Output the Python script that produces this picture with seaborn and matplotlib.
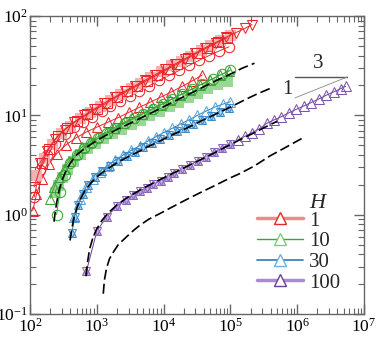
import numpy as np
import pandas as pd
import seaborn as sns
import matplotlib
matplotlib.use("Agg")
import matplotlib.pyplot as plt
from matplotlib.lines import Line2D
from matplotlib.ticker import LogLocator, LogFormatterSciNotation, NullFormatter

# ---------------- data ----------------
# H = 1 (red)
red_sq_x = [125, 160, 210, 290, 400, 560, 800, 1100, 1600, 2200, 3200, 4500, 6300, 9000, 13000, 18000, 25000, 36000, 50000, 70000, 100000]
red_sq_y = [2.5, 3.7, 5.1, 6.6, 7.9, 9.3, 10.8, 12.3, 14.4, 16.3, 18.9, 21.4, 24.2, 27.8, 31.8, 35.6, 40.0, 45.5, 51.0, 57.0, 64.5]
red_v_x = [140, 180, 240, 330, 460, 650, 920, 1300, 1850, 2600, 3700, 5300, 7500, 10500, 15000, 21000, 30000, 42000, 60000, 85000, 120000, 165000, 210000]
red_v_y = [3.3, 4.4, 5.8, 7.2, 8.6, 10.0, 11.6, 13.3, 15.3, 17.4, 19.8, 22.6, 25.7, 29.0, 33.0, 37.2, 42.5, 48.0, 54.0, 61.0, 68.0, 75.0, 82.0]
red_x_x = [115, 150, 190, 260, 360, 500, 720, 1000, 1400, 2000, 2800, 4000, 5600, 8000, 11500, 16000, 23000, 32000, 45000, 65000, 90000]
red_x_y = [1.9, 3.3, 4.6, 6.2, 7.5, 8.8, 10.2, 11.7, 13.3, 15.4, 17.4, 19.8, 22.4, 25.5, 29.2, 32.8, 37.5, 42.5, 48.0, 54.5, 60.5]
red_o_x = [115, 140, 180, 240, 330, 450, 620, 850, 1200, 1600, 2200, 3100, 4300, 6000, 8500, 12000, 17000, 24000, 34000, 48000, 68000, 95000]
red_o_y = [1.5, 2.8, 4.0, 5.2, 6.5, 7.6, 8.6, 9.6, 11.0, 12.3, 13.8, 15.6, 17.6, 19.8, 22.5, 25.2, 28.3, 31.8, 35.8, 40.0, 44.5, 49.0]
red_tri_x = [110, 125, 150, 190, 250, 340, 480, 700, 1000, 1450, 2100, 3000, 4300, 6200, 9000, 13000, 19000, 27000, 38000]
red_tri_y = [1.1, 1.6, 2.3, 3.2, 4.1, 5.0, 5.9, 6.8, 7.6, 8.5, 9.5, 10.7, 12.0, 13.5, 15.2, 17.2, 19.6, 22.3, 25.5]

# H = 10 (green)
green_line_x = [229, 240, 255, 275, 300, 340, 400, 500, 650, 850, 1100, 1500, 2000, 2800, 4000, 5500, 8000, 11000, 16000, 22000, 32000, 45000, 65000, 100000, 150000, 230000]
green_line_y = [0.85, 1.1, 1.4, 1.8, 2.2, 2.7, 3.3, 4.0, 4.6, 5.2, 5.8, 6.5, 7.2, 8.0, 9.0, 10.0, 11.3, 12.6, 14.3, 15.9, 18.0, 20.2, 22.8, 26.0, 29.8, 33.5]
green_tri_x = [200, 230, 270, 320, 390, 480, 600, 780, 1000, 1350, 1800, 2500, 3400, 4700, 6500, 9000, 12500, 17500, 25000, 35000, 50000, 70000, 95000]
green_tri_y = [1.45, 1.9, 2.4, 2.9, 3.5, 4.1, 4.8, 5.4, 6.0, 6.7, 7.5, 8.4, 9.3, 10.3, 11.5, 12.8, 14.3, 16.0, 18.0, 20.2, 22.7, 25.3, 28.0]
green_o_x = [250, 280, 330, 400, 500, 640, 820, 1050, 1400, 1900, 2600, 3600, 5000, 7000, 9800, 13500, 19000, 27000, 38000, 54000, 75000, 100000]
green_o_y = [1.0, 1.7, 2.5, 3.3, 4.0, 4.7, 5.3, 5.9, 6.6, 7.4, 8.3, 9.3, 10.4, 11.6, 13.0, 14.6, 16.4, 18.5, 20.8, 23.4, 26.0, 28.5]
green_sq_x = [237, 260, 300, 360, 440, 560, 720, 930, 1250, 1700, 2300, 3200, 4400, 6100, 8500, 12000, 16500, 23000, 32000, 45000, 63000, 88000]
green_sq_y = [1.7, 2.0, 2.4, 2.9, 3.5, 4.1, 4.7, 5.3, 5.9, 6.6, 7.3, 8.1, 9.0, 10.0, 11.1, 12.3, 13.7, 15.2, 16.9, 18.7, 20.6, 22.3]

# H = 30 (blue)
blue_line_x = [398, 420, 450, 500, 560, 650, 800, 1000, 1300, 1700, 2300, 3100, 4200, 5700, 7800, 10500, 14500, 20000, 28000, 38000, 52000, 72000, 100000, 160000, 250000, 390000]
blue_line_y = [0.55, 0.7, 0.9, 1.15, 1.4, 1.7, 2.05, 2.4, 2.75, 3.1, 3.5, 3.9, 4.3, 4.8, 5.3, 5.85, 6.5, 7.2, 8.0, 8.9, 9.8, 10.9, 12.1, 14.2, 16.4, 18.6]
blue_x = [420, 470, 530, 620, 750, 950, 1200, 1600, 2100, 2800, 3700, 5000, 6600, 8800, 12000, 16000, 21000, 28000, 38000, 51000, 70000, 95000]
blue_y = [0.65, 0.95, 1.25, 1.6, 2.0, 2.4, 2.75, 3.1, 3.5, 3.9, 4.3, 4.75, 5.25, 5.75, 6.3, 6.9, 7.5, 8.2, 9.0, 9.8, 10.8, 11.9]
blue_tri_x = [450, 560, 700, 880, 1100, 1450, 1900, 2500, 3300, 4400, 5800, 7700, 10000, 13500, 18000, 24000, 32000, 43000, 58000, 78000, 100000]
blue_tri_y = [0.95, 1.45, 1.9, 2.3, 2.7, 3.1, 3.55, 4.0, 4.45, 4.95, 5.5, 6.1, 6.7, 7.4, 8.2, 9.0, 10.0, 11.0, 12.1, 13.0, 13.7]

# H = 100 (purple)
purple_line_x = [690, 720, 780, 870, 1000, 1200, 1500, 2000, 2700, 3600, 5000, 7000, 10000, 14000, 20000, 28000, 40000, 56000, 80000, 110000, 160000, 230000, 330000, 500000]
purple_line_y = [0.24, 0.32, 0.45, 0.58, 0.72, 0.88, 1.05, 1.25, 1.45, 1.63, 1.85, 2.08, 2.35, 2.62, 2.95, 3.3, 3.7, 4.15, 4.7, 5.25, 5.95, 6.7, 7.6, 8.7]
purple_star_x = [700, 1000, 1400, 2000, 2700, 3500, 4500, 5600, 7000, 9000, 11500, 14500, 19000, 25000, 33000, 43000, 57000, 75000, 100000]
purple_star_y = [0.27, 0.68, 0.95, 1.22, 1.42, 1.58, 1.74, 1.87, 2.02, 2.2, 2.4, 2.62, 2.88, 3.18, 3.5, 3.85, 4.25, 4.7, 5.2]
purple_tri_x = [130000, 165000, 210000, 270000, 350000, 450000, 580000, 750000, 970000, 1250000, 1600000, 2100000, 2700000, 3500000, 4500000, 5300000]
purple_tri_y = [5.7, 6.15, 6.7, 7.3, 8.3, 9.0, 9.7, 10.6, 11.5, 12.4, 13.4, 14.6, 15.9, 17.2, 18.6, 19.6]

# lowest dashed prediction
low_x = [1250, 1300, 1400, 1550, 1770, 2100, 2800, 3600, 4500, 6000, 8900, 13000, 22000, 35000, 60000, 100000, 140000, 230000, 390000, 650000, 1200000]
low_y = [0.16, 0.22, 0.29, 0.36, 0.42, 0.5, 0.6, 0.7, 0.79, 0.9, 1.03, 1.18, 1.42, 1.66, 1.98, 2.35, 2.6, 3.1, 3.9, 4.7, 5.9]

legend_labels = ["1", "10", "30", "100"]

# ---------------- style ----------------
sns.set_style("ticks")
plt.rcParams["font.family"] = ["Liberation Serif", "DejaVu Serif"]
plt.rcParams["mathtext.fontset"] = "custom"
plt.rcParams["mathtext.rm"] = "Liberation Serif"
plt.rcParams["mathtext.it"] = "Liberation Serif:italic"
plt.rcParams["mathtext.bf"] = "Liberation Serif:bold"

RED, PINK = "#e8262b", "#f6b0b0"
GREEN, LGREEN = "#3aa535", "#9ad696"
BLUE, LBLUE = "#2a7ab8", "#b3d5ef"
PURPLE, LPURPLE = "#6a3d9a", "#c3afe0"

fig = plt.figure(figsize=(3.8, 3.38), dpi=100)
ax = fig.add_axes([30 / 380, 24 / 338, 334 / 380, 298 / 338])
ax.set_xscale("log")
ax.set_yscale("log")


def series(x, y, color, marker, mfc="none", mec=None, ms=6.5, lw=0.7, z=2, mew=0.75):
    sns.lineplot(x=x, y=y, ax=ax, color=color, lw=lw, marker=marker, markersize=ms,
                 markerfacecolor=mfc, markeredgecolor=mec or color, markeredgewidth=mew,
                 estimator=None, sort=False, legend=False, zorder=z)


def fitline(x, y):
    sns.lineplot(x=x, y=y, ax=ax, color="black", lw=1.2, linestyle=(0, (6, 2.5)),
                 estimator=None, sort=False, legend=False, zorder=4)


# red
series(red_tri_x, red_tri_y, RED, "^", ms=7)
series(red_o_x, red_o_y, RED, "o", ms=7.5)
series(red_sq_x, red_sq_y, RED, "s", mfc=PINK, mec=PINK, ms=6.5)
series(red_x_x, red_x_y, RED, "s", ms=6.5)
series(red_v_x, red_v_y, RED, "v", ms=7)

# green
series(green_sq_x, green_sq_y, GREEN, "s", mfc=LGREEN, mec=LGREEN, ms=6.5)
series(green_tri_x, green_tri_y, GREEN, "^", ms=7)
series(green_o_x, green_o_y, GREEN, "o", ms=7.5)
fitline(green_line_x, green_line_y)

# blue
series(blue_tri_x, blue_tri_y, BLUE, "^", ms=6.5, mec="#5aa2d8")
series(blue_x, blue_y, BLUE, "^", mfc=LBLUE, mec="#3f8cc8", ms=6)
series(blue_x, blue_y, BLUE, "v", mfc="none", mec="#3f8cc8", ms=6, lw=0)
fitline(blue_line_x, blue_line_y)

# purple
series(purple_star_x, purple_star_y, PURPLE, "^", mfc=LPURPLE, mec="#8a63bd", ms=6)
series(purple_star_x, purple_star_y, PURPLE, "v", mfc="none", mec="#8a63bd", ms=6, lw=0)
series(purple_tri_x, purple_tri_y, PURPLE, "^", ms=7, mec="#7d55b0")
fitline(purple_line_x, purple_line_y)

# lowest prediction
fitline(low_x, low_y)

# ---------------- axes ----------------
ax.set_xlim(1e2, 1e7)
ax.set_ylim(1e-1, 1e2)
ax.xaxis.set_major_locator(LogLocator(base=10, numticks=10))
ax.yaxis.set_major_locator(LogLocator(base=10, numticks=10))
ax.xaxis.set_minor_locator(LogLocator(base=10, subs=np.arange(2, 10), numticks=20))
ax.yaxis.set_minor_locator(LogLocator(base=10, subs=np.arange(2, 10), numticks=20))
ax.xaxis.set_major_formatter(LogFormatterSciNotation())
ax.yaxis.set_major_formatter(LogFormatterSciNotation())
ax.xaxis.set_minor_formatter(NullFormatter())
ax.yaxis.set_minor_formatter(NullFormatter())
ax.tick_params(which="both", direction="in", top=True, right=True, color="#666666",
               labelsize=12.5, labelcolor="black")
ax.tick_params(which="major", length=7, width=1, pad=2.5)
ax.tick_params(axis="y", which="major", pad=1.5)
ax.tick_params(which="minor", length=4, width=0.8)
for s in ax.spines.values():
    s.set_color("#666666")
    s.set_linewidth(1.0)

# slope annotation
ax.plot([0.793, 0.949], [0.795, 0.795], transform=ax.transAxes, color="#555555", lw=1.0)
ax.plot([0.793, 0.949], [0.725, 0.795], transform=ax.transAxes, color="#888888", lw=0.6)
ax.text(0.772, 0.755, "1", transform=ax.transAxes, fontsize=15, ha="center", va="center")
ax.text(0.862, 0.84, "3", transform=ax.transAxes, fontsize=15, ha="center", va="center")

# legend
handles = [
    Line2D([], [], color="#f08a8a", lw=2.5, marker="^", ms=8, mfc="white", mec=RED),
    Line2D([], [], color=GREEN, lw=1.0, marker="^", ms=8, mfc="white", mec="#7ccf77"),
    Line2D([], [], color=BLUE, lw=1.2, marker="^", ms=8, mfc="white", mec="#6fb0e0"),
    Line2D([], [], color="#a98bd0", lw=2.5, marker="^", ms=8, mfc="white", mec=PURPLE),
]
ax.legend(handles, legend_labels, loc="upper left", bbox_to_anchor=(0.68, 0.345),
          frameon=False, fontsize=15, handlelength=2.2, handletextpad=0.3,
          labelspacing=0.05, borderpad=0, borderaxespad=0)
ax.text(0.859, 0.372, "H", transform=ax.transAxes, fontsize=16, style="italic",
        ha="center", va="center")

fig.savefig("out.png", dpi=100)
